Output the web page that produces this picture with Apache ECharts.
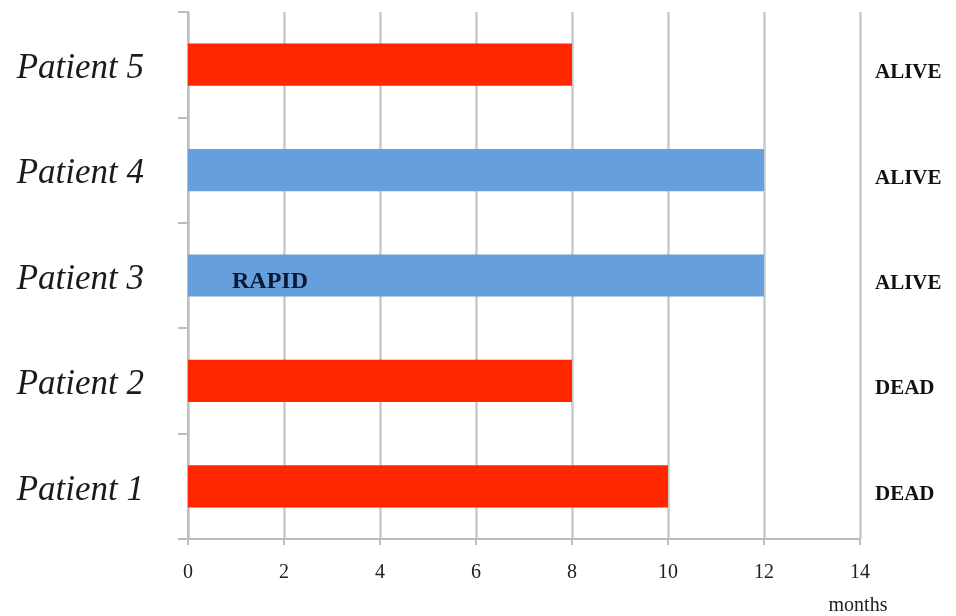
<!DOCTYPE html>
<html>
<head>
<meta charset="utf-8">
<script src="https://cdn.jsdelivr.net/npm/echarts@6/dist/echarts.min.js"></script>
<style>html,body{margin:0;padding:0;background:#fff;}#c{width:956px;height:616px;}</style>
</head>
<body>
<div id="c"></div>
<script>
var patients = ['Patient 1', 'Patient 2', 'Patient 3', 'Patient 4', 'Patient 5'];
var months = [10, 8, 12, 12, 8];
var groups = ['red', 'red', 'blue', 'blue', 'red'];
var outcomeLabels = ['DEAD', 'DEAD', 'ALIVE', 'ALIVE', 'ALIVE'];
var annotations = ['', '', 'RAPID', '', ''];
var xTicks = [0, 2, 4, 6, 8, 10, 12, 14];

var colorMap = { red: '#FF2600', blue: '#65A0DC' };
var serif = 'Liberation Serif';

var chart = echarts.init(document.getElementById('c'));
var barData = months.map(function (v, i) {
  var item = { value: v, itemStyle: { color: colorMap[groups[i]] } };
  if (annotations[i]) {
    item.label = {
      show: true, position: 'insideLeft', formatter: annotations[i],
      offset: [39, 6], fontFamily: serif, fontWeight: 'bold', fontSize: 24, color: '#0B1836'
    };
  }
  return item;
});

chart.setOption({
  animation: false,
  grid: { left: 188, right: 96, top: 12, bottom: 77 },
  xAxis: {
    type: 'value', min: xTicks[0], max: xTicks[xTicks.length - 1], interval: 2,
    axisLine: { show: true, lineStyle: { color: '#BDBDBD', width: 2 } },
    axisTick: { show: true, length: 6, lineStyle: { color: '#BDBDBD', width: 2 } },
    splitLine: { show: true, lineStyle: { color: '#C9C9C9', width: 2.5 } },
    axisLabel: { fontFamily: serif, fontSize: 20, color: '#222', margin: 24 },
    name: 'months', nameLocation: 'end', nameGap: -2,
    nameTextStyle: { fontFamily: serif, fontSize: 20, color: '#222', align: 'center', verticalAlign: 'top', padding: [57, 0, 0, 0] }
  },
  yAxis: [{
    type: 'category', data: patients,
    axisLine: { show: true, lineStyle: { color: '#BDBDBD', width: 2 } },
    axisTick: { show: true, length: 10, lineStyle: { color: '#BDBDBD', width: 2 } },
    axisLabel: { fontFamily: serif, fontStyle: 'italic', fontSize: 35, color: '#1a1a1a', margin: 44, verticalAlign: 'top', lineHeight: 8 }
  }, {
    type: 'category', data: patients, position: 'right',
    axisLine: { show: false }, axisTick: { show: false },
    axisLabel: {
      fontFamily: serif, fontWeight: 'bold', fontSize: 21, color: '#111', margin: 15,
      verticalAlign: 'top', lineHeight: 16,
      formatter: function (v, i) { return outcomeLabels[i]; }
    }
  }],
  series: [{
    type: 'bar', data: barData, barWidth: '40%', yAxisIndex: 0
  }]
});
</script>
</body>
</html>
